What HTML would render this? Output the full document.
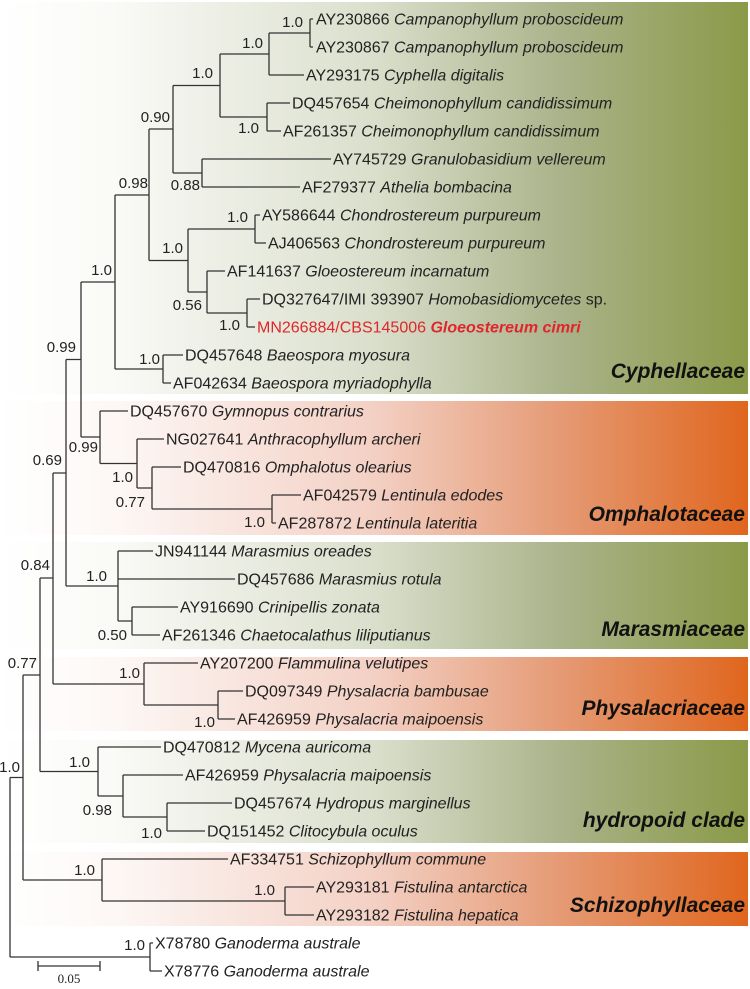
<!DOCTYPE html>
<html><head><meta charset="utf-8"><style>
html,body{margin:0;padding:0;background:#fff}
svg{display:block}
.l{font-family:"Liberation Sans",sans-serif;font-size:16px;fill:#222}
.s{font-family:"Liberation Sans",sans-serif;font-size:15px;fill:#222;text-anchor:end}
.f{font-family:"Liberation Sans",sans-serif;font-size:21px;font-weight:bold;font-style:italic;fill:#111;text-anchor:end}
</style></head><body>
<svg width="750" height="989" viewBox="0 0 750 989" xmlns="http://www.w3.org/2000/svg">
<defs>
<linearGradient id="g" x1="0" x2="1" y1="0" y2="0">
<stop offset="0" stop-color="#ffffff"/><stop offset="0.15" stop-color="#fafaf7"/><stop offset="0.5" stop-color="#dadfcc"/><stop offset="0.75" stop-color="#aab38a"/><stop offset="1" stop-color="#8a9a48"/>
</linearGradient>
<linearGradient id="o" x1="0" x2="1" y1="0" y2="0">
<stop offset="0" stop-color="#ffffff"/><stop offset="0.15" stop-color="#fdf8f6"/><stop offset="0.5" stop-color="#f3d0c4"/><stop offset="0.75" stop-color="#e59a74"/><stop offset="1" stop-color="#e0661e"/>
</linearGradient>
</defs>
<rect x="0" y="2" width="748" height="392" fill="url(#g)"/>
<rect x="0" y="401" width="748" height="134" fill="url(#o)"/>
<rect x="0" y="542" width="748" height="107" fill="url(#g)"/>
<rect x="0" y="657" width="748" height="74" fill="url(#o)"/>
<rect x="0" y="740" width="748" height="103" fill="url(#g)"/>
<rect x="0" y="852" width="748" height="74" fill="url(#o)"/>

<text class="f" x="745" y="378">Cyphellaceae</text>
<text class="f" x="745" y="521">Omphalotaceae</text>
<text class="f" x="745" y="636">Marasmiaceae</text>
<text class="f" x="745" y="715">Physalacriaceae</text>
<text class="f" x="745" y="827">hydropoid clade</text>
<text class="f" x="745" y="912">Schizophyllaceae</text>

<path fill="none" stroke="#333" stroke-width="1.3" d="
M310 19V47M310 19H313M310 47H313
M269 33V75M269 33H310M269 75H304
M267 103V131M267 103H290M267 131H281
M220 54V117M220 54H269M220 117H267
M202 159V187M202 159H331M202 187H300
M173 85.5V173M173 85.5H220M173 173H202
M255 215V243M255 215H260M255 243H266
M247 299V327M247 299H260M247 327H255
M207 271V313M207 271H225M207 313H247
M188 229V292M188 229H255M188 292H207
M149 129V260.5M149 129H173M149 260.5H188
M163 355V383M163 355H183M163 383H171
M115 195V369M115 195H149M115 369H163
M272 495V523M272 495H301M272 523H276
M152 467V509M152 467H181M152 509H272
M137 439V488M137 439H164M137 488H152
M100 411V463.5M100 411H128M100 463.5H137
M81 282V437M81 282H115M81 437H100
M132 607V635M132 607H178M132 635H160
M118 551V621M118 551H153M118 579H235M118 621H132
M66 359.5V586M66 359.5H81M66 586H118
M218 691V719M218 691H243M218 719H235
M144 663V705M144 663H198M144 705H218
M53 473V684M53 473H66M53 684H144
M167 803V831M167 803H232M167 831H205
M123 775V817M123 775H183M123 817H167
M98 747V796M98 747H161M98 796H123
M40 578V771.5M40 578H53M40 771.5H98
M285 887V915M285 887H314M285 915H314
M102 859V901M102 859H228M102 901H285
M23 675V880M23 675H40M23 880H102
M150 943V971M150 943H153M150 971H162
M10 777.5V957M10 777.5H23M10 957H150
M38 966H100M38 961V971M100 961V971"/>

<g class="l">
<text x="316" y="24.5">AY230866 <tspan font-style="italic">Campanophyllum proboscideum</tspan></text>
<text x="316" y="52.5">AY230867 <tspan font-style="italic">Campanophyllum proboscideum</tspan></text>
<text x="306" y="80.5">AY293175 <tspan font-style="italic">Cyphella digitalis</tspan></text>
<text x="292" y="108.5">DQ457654 <tspan font-style="italic">Cheimonophyllum candidissimum</tspan></text>
<text x="283" y="136.5">AF261357 <tspan font-style="italic">Cheimonophyllum candidissimum</tspan></text>
<text x="333" y="164.5">AY745729 <tspan font-style="italic">Granulobasidium vellereum</tspan></text>
<text x="302" y="192.5">AF279377 <tspan font-style="italic">Athelia bombacina</tspan></text>
<text x="262" y="220.5">AY586644 <tspan font-style="italic">Chondrostereum purpureum</tspan></text>
<text x="268" y="248.5">AJ406563 <tspan font-style="italic">Chondrostereum purpureum</tspan></text>
<text x="227" y="276.5">AF141637 <tspan font-style="italic">Gloeostereum incarnatum</tspan></text>
<text x="262" y="304.5">DQ327647/IMI 393907 <tspan font-style="italic">Homobasidiomycetes</tspan> sp.</text>
<text x="257" y="332.5" style="fill:#e0262a">MN266884/CBS145006 <tspan font-style="italic" font-weight="bold">Gloeostereum cimri</tspan></text>
<text x="185" y="360.5">DQ457648 <tspan font-style="italic">Baeospora myosura</tspan></text>
<text x="173" y="388.5">AF042634 <tspan font-style="italic">Baeospora myriadophylla</tspan></text>
<text x="130" y="416.5">DQ457670 <tspan font-style="italic">Gymnopus contrarius</tspan></text>
<text x="166" y="444.5">NG027641 <tspan font-style="italic">Anthracophyllum archeri</tspan></text>
<text x="183" y="472.5">DQ470816 <tspan font-style="italic">Omphalotus olearius</tspan></text>
<text x="303" y="500.5">AF042579 <tspan font-style="italic">Lentinula edodes</tspan></text>
<text x="278" y="528.5">AF287872 <tspan font-style="italic">Lentinula lateritia</tspan></text>
<text x="155" y="556.5">JN941144 <tspan font-style="italic">Marasmius oreades</tspan></text>
<text x="237" y="584.5">DQ457686 <tspan font-style="italic">Marasmius rotula</tspan></text>
<text x="180" y="612.5">AY916690 <tspan font-style="italic">Crinipellis zonata</tspan></text>
<text x="162" y="640.5">AF261346 <tspan font-style="italic">Chaetocalathus liliputianus</tspan></text>
<text x="200" y="668.5">AY207200 <tspan font-style="italic">Flammulina velutipes</tspan></text>
<text x="245" y="696.5">DQ097349 <tspan font-style="italic">Physalacria bambusae</tspan></text>
<text x="237" y="724.5">AF426959 <tspan font-style="italic">Physalacria maipoensis</tspan></text>
<text x="163" y="752.5">DQ470812 <tspan font-style="italic">Mycena auricoma</tspan></text>
<text x="185" y="780.5">AF426959 <tspan font-style="italic">Physalacria maipoensis</tspan></text>
<text x="234" y="808.5">DQ457674 <tspan font-style="italic">Hydropus marginellus</tspan></text>
<text x="207" y="836.5">DQ151452 <tspan font-style="italic">Clitocybula oculus</tspan></text>
<text x="230" y="864.5">AF334751 <tspan font-style="italic">Schizophyllum commune</tspan></text>
<text x="316" y="892.5">AY293181 <tspan font-style="italic">Fistulina antarctica</tspan></text>
<text x="316" y="920.5">AY293182 <tspan font-style="italic">Fistulina hepatica</tspan></text>
<text x="155" y="948.5">X78780 <tspan font-style="italic">Ganoderma australe</tspan></text>
<text x="164" y="976.5">X78776 <tspan font-style="italic">Ganoderma australe</tspan></text>
</g>

<g class="s">
<text x="303" y="27">1.0</text>
<text x="263" y="48">1.0</text>
<text x="259" y="133">1.0</text>
<text x="213" y="78">1.0</text>
<text x="200" y="190">0.88</text>
<text x="170" y="122">0.90</text>
<text x="248" y="222">1.0</text>
<text x="240" y="330">1.0</text>
<text x="202" y="310">0.56</text>
<text x="183" y="253">1.0</text>
<text x="148" y="188">0.98</text>
<text x="160" y="364">1.0</text>
<text x="112" y="275">1.0</text>
<text x="76" y="352">0.99</text>
<text x="98" y="452">0.99</text>
<text x="133" y="482">1.0</text>
<text x="145" y="507">0.77</text>
<text x="265" y="527">1.0</text>
<text x="62" y="465">0.69</text>
<text x="107" y="581">1.0</text>
<text x="127" y="640">0.50</text>
<text x="50" y="570">0.84</text>
<text x="140" y="678">1.0</text>
<text x="215" y="727">1.0</text>
<text x="37" y="668">0.77</text>
<text x="90" y="767">1.0</text>
<text x="112" y="815">0.98</text>
<text x="162" y="838">1.0</text>
<text x="95" y="875">1.0</text>
<text x="275" y="895">1.0</text>
<text x="20" y="772">1.0</text>
<text x="145" y="950">1.0</text>
</g>
<text x="69" y="983" text-anchor="middle" font-family="Liberation Serif, serif" font-size="13" fill="#222">0.05</text>
</svg>
</body></html>
